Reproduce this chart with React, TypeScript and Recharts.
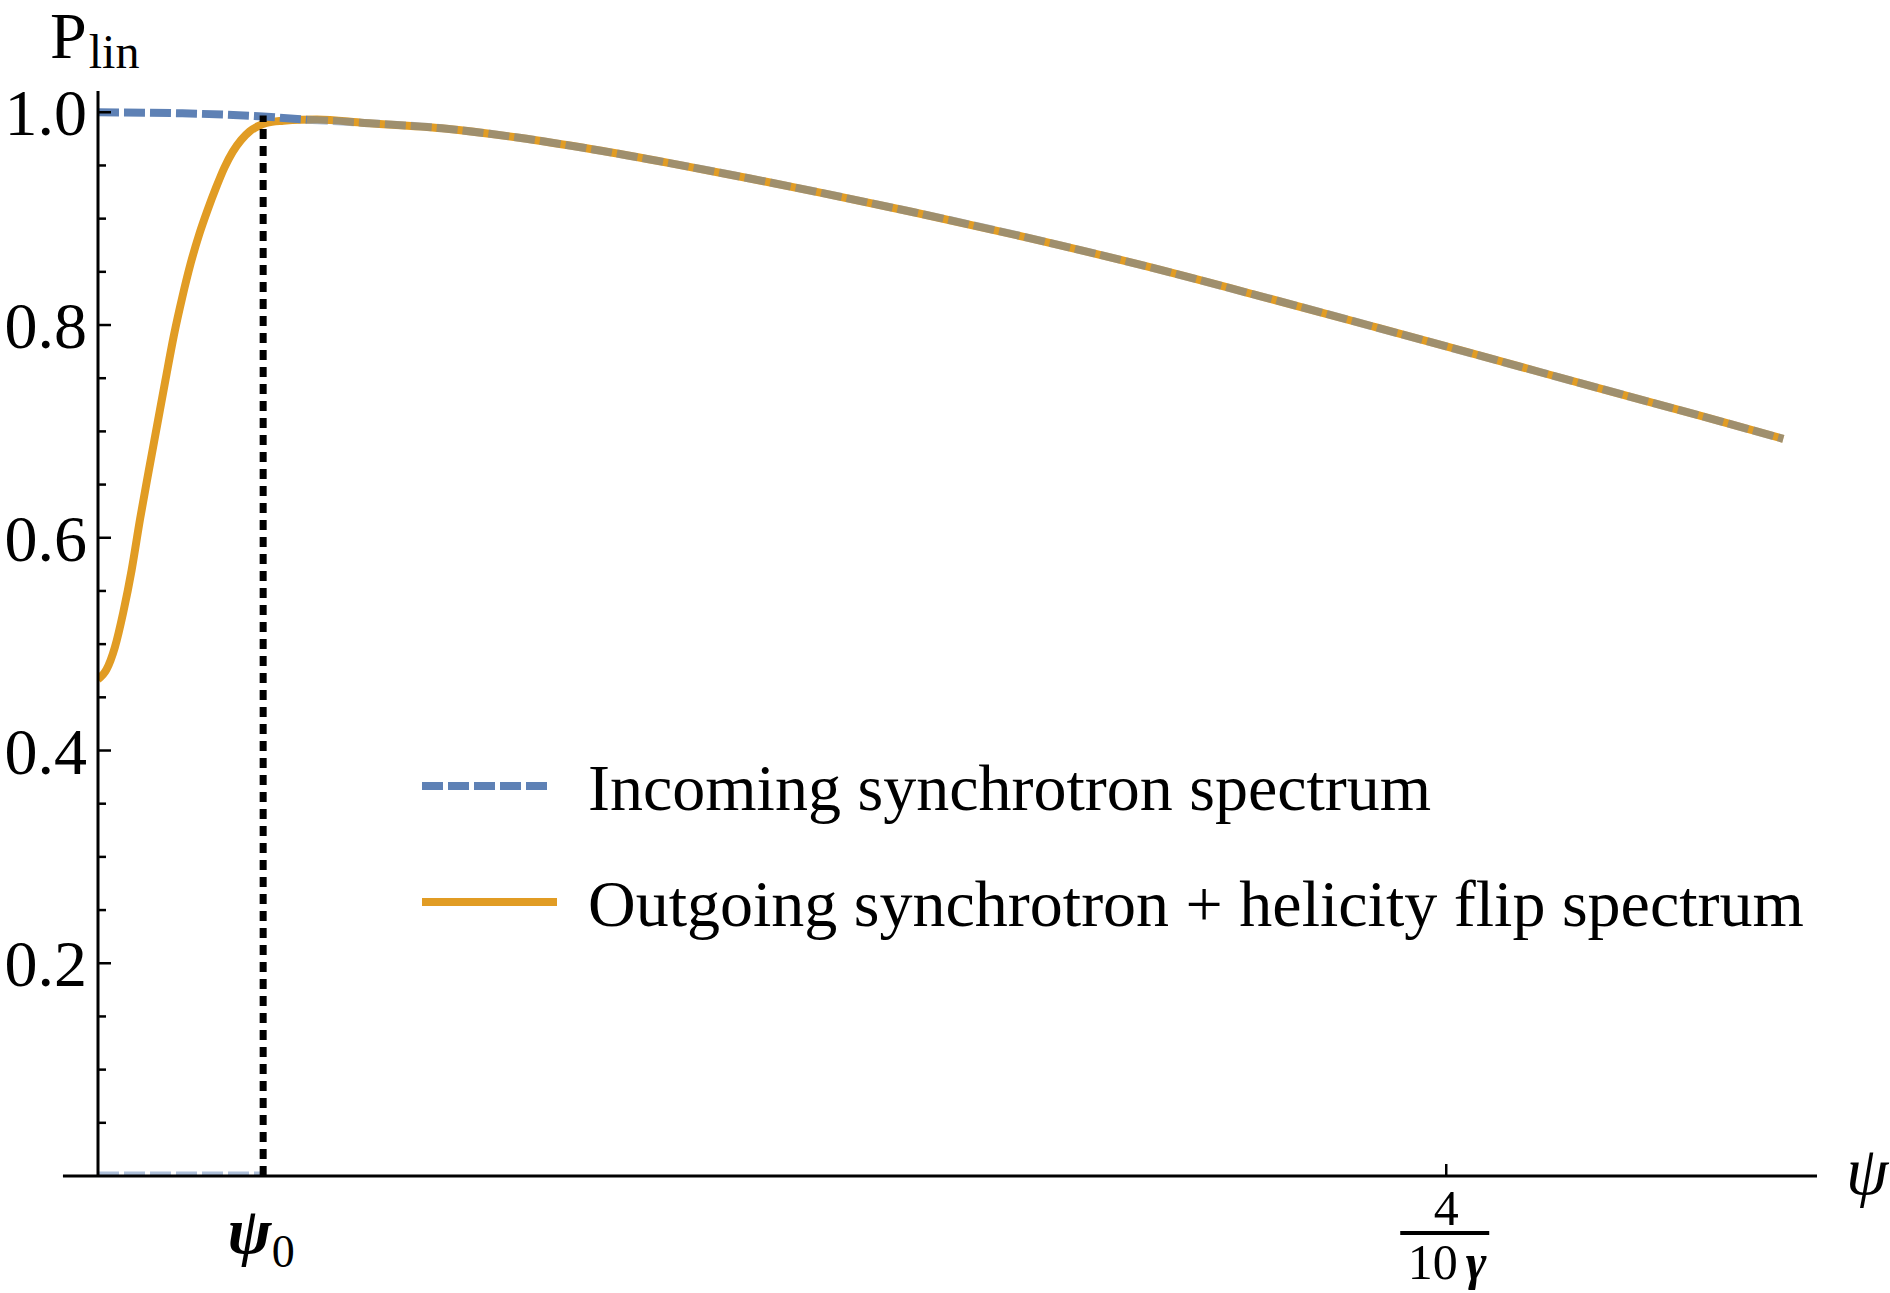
import React from "react";
import { LineChart, Line, XAxis, YAxis, ReferenceLine, Legend } from "recharts";

// incoming synchrotron spectrum, P_lin vs psi (psi in units of 1/gamma)
const PSI_IN = [0, 0.025, 0.049, 0.062, 0.079, 0.102, 0.125, 0.147, 0.17, 0.193, 0.215, 0.242, 0.276, 0.31, 0.345, 0.379, 0.416, 0.446, 0.475, 0.5];
const P_IN = [1.0, 0.999, 0.996, 0.993, 0.99, 0.985, 0.976, 0.965, 0.952, 0.938, 0.924, 0.906, 0.882, 0.856, 0.827, 0.798, 0.766, 0.74, 0.715, 0.693];

// outgoing spectrum: rises from ~0.47 and joins the incoming curve after psi0
const PSI_OUT_RISE = [0, 0.0025, 0.005, 0.0075, 0.01, 0.0125, 0.015, 0.0175, 0.02, 0.0225, 0.025, 0.0275, 0.03, 0.0325, 0.035, 0.0375, 0.04, 0.0425, 0.045, 0.0475, 0.05, 0.055, 0.06, 0.065];
const P_OUT_RISE = [0.467, 0.476, 0.497, 0.53, 0.57, 0.618, 0.662, 0.705, 0.748, 0.79, 0.826, 0.858, 0.885, 0.908, 0.929, 0.948, 0.963, 0.974, 0.982, 0.987, 0.99, 0.992, 0.993, 0.9932];

const PSI0 = 0.049;
const X_TICKS = [PSI0, 0.4];
const Y_MAJOR = [0.2, 0.4, 0.6, 0.8, 1.0];
const Y_MINOR = [0.05, 0.1, 0.15, 0.25, 0.3, 0.35, 0.45, 0.5, 0.55, 0.65, 0.7, 0.75, 0.85, 0.9, 0.95];
const X_MAX = 0.51;
const X_AXIS_FROM = -0.0104;
const Y_MAX = 1.02;

const BLUE = "#5e81b5";
const ORANGE = "#e19c24";
const FONT = "'Liberation Serif', 'Times New Roman', serif";

const LEGEND_ITEMS = [
  { label: "Incoming synchrotron spectrum", color: BLUE, dash: "21 5", len: 129 },
  { label: "Outgoing synchrotron + helicity flip spectrum", color: ORANGE, dash: undefined, len: 135 },
];

const incoming = PSI_IN.map((psi, i) => ({ psi, p: P_IN[i] }));
const incomingHead = incoming.slice(0, 4);
const incomingTail = incoming.slice(3);
const outgoing = [
  ...PSI_OUT_RISE.map((psi, i) => ({ psi, p: P_OUT_RISE[i] })),
  ...incoming.filter((d) => d.psi > 0.065),
];
const baseSegment = [
  { psi: 0, p: 0 },
  { psi: PSI0, p: 0 },
];

function YTick({ x, y, payload }: any) {
  const major = Y_MAJOR.includes(payload.value);
  return (
    <g>
      <line x1={x} y1={y} x2={x + (major ? 13 : 8)} y2={y} stroke="#000" strokeWidth={2.5} />
      {major && (
        <text x={x - 11} y={y + 23} textAnchor="end" fontFamily={FONT} fontSize={66} fill="#000">
          {payload.value.toFixed(1)}
        </text>
      )}
    </g>
  );
}

function XTick({ x, y, payload }: any) {
  if (payload.value === PSI0) {
    return (
      <text x={x - 2} y={y + 77} textAnchor="middle" fontFamily={FONT} fill="#000">
        <tspan fontSize={66} fontStyle="italic" fontWeight="bold">ψ</tspan>
        <tspan fontSize={46} dy={14}>0</tspan>
      </text>
    );
  }
  return (
    <g>
      <line x1={x} y1={y} x2={x} y2={y - 12} stroke="#000" strokeWidth={2.5} />
      <text x={x} y={y + 49} textAnchor="middle" fontFamily={FONT} fontSize={50} fill="#000">4</text>
      <line x1={x - 46} y1={y + 57} x2={x + 43} y2={y + 57} stroke="#000" strokeWidth={4} />
      <text x={x + 1} y={y + 103} textAnchor="middle" fontFamily={FONT} fontSize={50} fill="#000">
        <tspan>10</tspan>
        <tspan dx={8} fontStyle="italic" fontWeight="bold">γ</tspan>
      </text>
    </g>
  );
}

function PLabel({ viewBox }: any) {
  return (
    <text x={viewBox.x + 50} y={58} fontFamily={FONT} fill="#000">
      <tspan fontSize={66}>P</tspan>
      <tspan fontSize={48} dx={2} dy={10}>lin</tspan>
    </text>
  );
}

function PsiLabel({ viewBox }: any) {
  return (
    <text x={viewBox.x + viewBox.width + 29} y={viewBox.y + 18} fontFamily={FONT} fontSize={68} fontStyle="italic" fill="#000">
      ψ
    </text>
  );
}

function LegendBox() {
  return (
    <svg width={1440} height={220} style={{ display: "block" }}>
      {LEGEND_ITEMS.map((it, i) => (
        <g key={it.label} transform={`translate(0, ${50 + i * 116})`}>
          <line x1={0} y1={0} x2={it.len} y2={0} stroke={it.color} strokeWidth={8} strokeDasharray={it.dash} />
          <text x={166} y={24} fontFamily={FONT} fontSize={66} fill="#000">{it.label}</text>
        </g>
      ))}
    </svg>
  );
}

export default function App() {
  return (
    <div style={{ position: "absolute", left: 0, top: 0, width: 1890, height: 1293, background: "#fff" }}>
      <LineChart width={1890} height={1293} margin={{ top: 91, right: 73, bottom: 0, left: 0 }}>
        <XAxis
          type="number"
          dataKey="psi"
          domain={[0, X_MAX]}
          ticks={X_TICKS}
          interval={0}
          tick={<XTick />}
          tickLine={false}
          axisLine={false}
          tickSize={0}
          tickMargin={0}
          height={117}
          allowDataOverflow
          label={{ content: <PsiLabel /> }}
        />
        <YAxis
          type="number"
          domain={[0, Y_MAX]}
          ticks={[...Y_MINOR, ...Y_MAJOR].sort((a, b) => a - b)}
          interval={0}
          tick={<YTick />}
          tickLine={false}
          axisLine={{ stroke: "#000", strokeWidth: 3 }}
          tickSize={0}
          tickMargin={0}
          width={98}
          allowDataOverflow
          label={{ content: <PLabel /> }}
        />
        <Legend
          layout="horizontal"
          verticalAlign="middle"
          align="center"
          wrapperStyle={{ left: 422, top: 736, width: 1440, height: 220 }}
          content={<LegendBox />}
        />
        <Line data={baseSegment} dataKey="p" stroke={BLUE} strokeOpacity={0.5} strokeWidth={9} strokeDasharray="21 5" dot={false} activeDot={false} isAnimationActive={false} legendType="none" />
        <Line data={outgoing} dataKey="p" type="monotone" stroke={ORANGE} strokeWidth={8} dot={false} activeDot={false} isAnimationActive={false} />
        <Line data={incomingHead} dataKey="p" type="monotone" stroke={BLUE} strokeWidth={8} strokeDasharray="21 5" dot={false} activeDot={false} isAnimationActive={false} />
        <Line data={incomingTail} dataKey="p" type="monotone" stroke={BLUE} strokeOpacity={0.5} strokeWidth={8} strokeDasharray="21 5" dot={false} activeDot={false} isAnimationActive={false} />
        <ReferenceLine
          segment={[{ x: X_AXIS_FROM, y: 0 }, { x: X_MAX, y: 0 }]}
          stroke="#000"
          strokeWidth={3}
          ifOverflow="visible"
        />
        <ReferenceLine
          segment={[{ x: PSI0, y: 0 }, { x: PSI0, y: 0.997 }]}
          stroke="#000"
          strokeWidth={7}
          strokeDasharray="10 7"
          ifOverflow="visible"
        />
      </LineChart>
    </div>
  );
}
